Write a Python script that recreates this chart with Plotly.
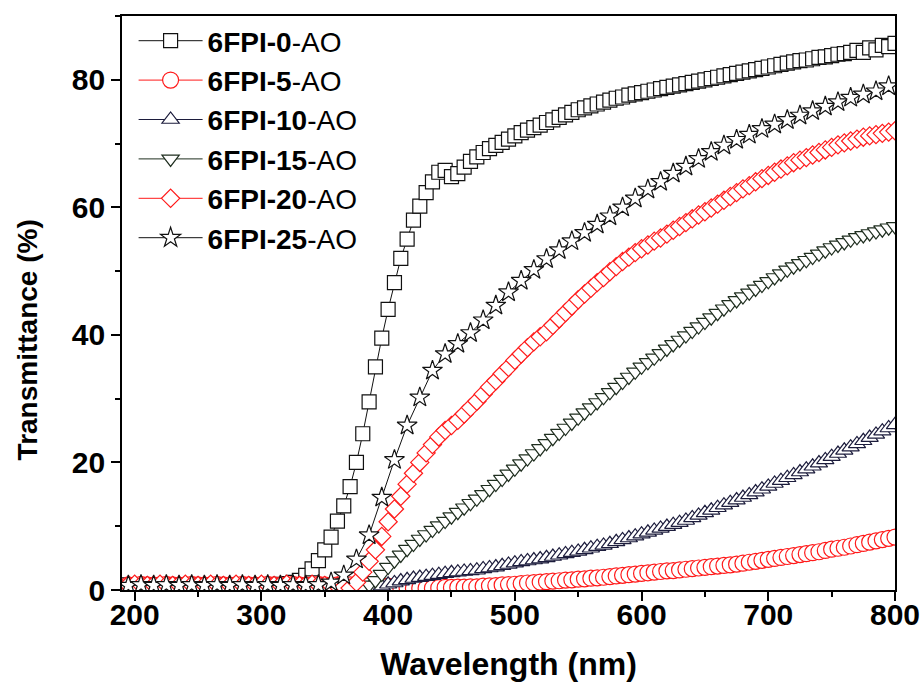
import plotly.graph_objects as go

# Wavelength grids (nm): most spectra sampled every 5 nm, the 6FPI-25 trace every 10 nm
WL5 = list(range(195, 805, 5))
WL10 = list(range(195, 800, 10))

# Transmittance (%) for each film
T_0 = [0.8, 0.7, 0.8, 0.8, 0.7, 0.8, 0.7, 0.8, 0.8, 0.7, 0.8, 0.7, 0.8, 0.8, 0.7, 0.8,
       0.7, 0.8, 0.8, 0.7, 0.8, 0.7, 0.8, 0.8, 0.9, 1.0, 1.2,
       1.5, 2.3, 3.3, 4.6, 6.3, 8.3, 10.8, 13.2, 16.2, 20.0, 24.5, 29.5, 35.0, 39.5,
       44.0, 48.2, 52.0, 55.0, 58.0, 60.2, 62.3, 64.0, 65.5, 65.8, 64.8, 65.3, 66.3,
       67.2, 67.9, 68.6, 69.2, 69.7, 70.2, 70.7, 71.2, 71.7, 72.1, 72.5, 72.9, 73.3,
       73.7, 74.1, 74.5, 74.9, 75.3, 75.6, 75.9, 76.2, 76.5, 76.8, 77.1, 77.3, 77.6,
       77.8, 78.0, 78.2, 78.4, 78.6, 78.8, 79.0, 79.2, 79.4, 79.6, 79.8, 80.0, 80.2,
       80.4, 80.6, 80.8, 81.0, 81.2, 81.4, 81.6, 81.8, 82.0, 82.2, 82.4, 82.6, 82.8,
       83.0, 83.1, 83.3, 83.5, 83.6, 83.8, 84.0, 84.1, 84.3, 84.6, 84.3, 85.0, 84.7,
       85.4, 85.2, 85.7]

T_5 = [0.8, 0.7, 0.9, 0.8, 0.7, 0.8, 0.9, 0.8, 0.7, 0.8, 0.9, 0.8, 0.7, 0.8, 0.9,
       0.8, 0.7, 0.8, 0.9, 0.8, 0.7, 0.8, 0.9, 0.8, 0.7, 0.8, 0.9, 0.8, 0.7, 0.8,
       0.9, 0.8, 0.7, 0.8, 0.8, 0.8, 0.7, 0.8, 0.7, 0.7, 0.7,
       0.6, 0.5, 0.4, 0.35, 0.3, 0.3, 0.3, 0.3, 0.35, 0.4, 0.4, 0.45, 0.45, 0.5, 0.5,
       0.6, 0.65, 0.7, 0.8, 0.85, 0.9, 1.0, 1.1, 1.15, 1.25, 1.3, 1.4, 1.45, 1.55,
       1.6, 1.7, 1.75, 1.85, 1.9, 2.0, 2.1, 2.2, 2.3, 2.4, 2.5, 2.6, 2.7, 2.8, 2.9,
       3.0, 3.05, 3.15, 3.25, 3.35, 3.45, 3.55, 3.65, 3.75, 3.85, 3.95, 4.05, 4.2,
       4.35, 4.5, 4.65, 4.8, 4.95, 5.1, 5.25, 5.4, 5.55, 5.7, 5.85, 6.0, 6.2, 6.4,
       6.55, 6.7, 6.9, 7.1, 7.3, 7.5, 7.7, 7.9, 8.1, 8.3]

T_10 = [0.8, 0.7, 0.8, 0.9, 0.8, 0.7, 0.8, 0.9, 0.8, 0.7, 0.8, 0.9, 0.8, 0.7, 0.8,
        0.9, 0.8, 0.7, 0.8, 0.9, 0.8, 0.7, 0.8, 0.9, 0.8, 0.7, 0.8, 0.9, 0.8, 0.7,
        0.8, 0.8, 0.7, 0.7, 0.6, 0.5, 0.5,
        0.4, 0.3, 0.4, 0.6, 0.9, 1.1, 1.4, 1.6, 1.8, 1.95, 2.1, 2.25, 2.4, 2.55, 2.7,
        2.8, 2.9, 3.0, 3.1, 3.3, 3.45, 3.6, 3.8, 4.0, 4.2, 4.4, 4.55, 4.7, 4.85, 5.05,
        5.25, 5.45, 5.65, 5.85, 6.05, 6.3, 6.55, 6.8, 7.0, 7.25, 7.55, 7.85, 8.15,
        8.45, 8.75, 9.05, 9.35, 9.65, 9.95, 10.25, 10.55, 10.9, 11.3, 11.7, 12.1,
        12.5, 12.9, 13.3, 13.7, 14.1, 14.5, 14.9, 15.35, 15.8, 16.25, 16.7, 17.15,
        17.6, 18.05, 18.5, 18.95, 19.4, 19.9, 20.4, 20.9, 21.4, 21.9, 22.4, 22.9,
        23.4, 23.9, 24.4, 24.9, 25.4, 25.9]

T_15 = [0.8, 0.7, 0.8, 0.8, 0.7, 0.8, 0.8, 0.7, 0.8, 0.8, 0.7, 0.8, 0.8, 0.7, 0.8,
        0.8, 0.7, 0.8, 0.8, 0.7, 0.8, 0.8, 0.7, 0.8, 0.8, 0.7, 0.8, 0.8, 0.7, 0.8,
        0.8, 0.7, 0.7, 0.6, 0.6, 0.5,
        0.5, 0.3, 0.8, 1.5, 2.5, 3.6, 4.6, 5.5, 6.4, 7.2, 8.0, 8.7, 9.4, 10.1, 10.8,
        11.5, 12.2, 12.9, 13.6, 14.3, 15.0, 15.8, 16.6, 17.4, 18.2, 19.0, 19.8, 20.6,
        21.4, 22.2, 23.0, 23.8, 24.6, 25.4, 26.2, 27.0, 27.8, 28.6, 29.4, 30.2, 31.0,
        31.8, 32.6, 33.4, 34.2, 35.0, 35.7, 36.4, 37.1, 37.8, 38.5, 39.2, 39.9, 40.6,
        41.3, 42.0, 42.7, 43.4, 44.1, 44.8, 45.4, 46.0, 46.6, 47.2, 47.8, 48.4, 49.0,
        49.6, 50.2, 50.7, 51.2, 51.7, 52.2, 52.7, 53.2, 53.7, 54.1, 54.5, 54.9, 55.3,
        55.6, 55.9, 56.2, 56.5, 56.8, 57.0]

T_20 = [0.8, 0.9, 0.8, 0.7, 0.8, 0.9, 0.8, 0.7, 0.8, 0.9, 0.8, 0.7, 0.8, 0.9, 0.8,
        0.7, 0.8, 0.9, 0.8, 0.7, 0.8, 0.9, 0.8, 0.7, 0.8, 0.9, 0.8, 0.7, 0.8, 0.9,
        0.8, 0.7, 0.7, 0.6,
        0.5, 0.3, 1.2, 2.8, 4.5, 6.3, 8.4, 10.7, 12.7, 14.7, 16.6, 18.3, 20.0, 21.5,
        22.8, 24.0, 25.0, 25.8, 26.6, 27.6, 28.6, 29.6, 30.7, 31.8, 32.8, 33.9, 34.9,
        36.0, 37.0, 38.0, 38.9, 39.7, 40.5, 41.5, 42.5, 43.5, 44.5, 45.5, 46.4, 47.3,
        48.2, 49.0, 49.9, 50.7, 51.5, 52.2, 52.9, 53.5, 54.1, 54.7, 55.2, 55.8, 56.4,
        57.0, 57.6, 58.2, 58.8, 59.3, 59.9, 60.5, 61.1, 61.7, 62.3, 62.9, 63.4, 64.0,
        64.5, 65.0, 65.5, 66.0, 66.5, 67.0, 67.4, 67.8, 68.2, 68.6, 69.0, 69.4, 69.8,
        70.1, 70.4, 70.7, 71.0, 71.2, 71.4, 71.6, 71.8, 72.0]

T_25 = [0.7, 0.8, 0.7, 0.8, 0.7, 0.8, 0.7, 0.8, 0.7, 0.8, 0.7, 0.8, 0.7, 0.8, 0.7,
        0.8, 1.2, 2.3, 4.8, 8.6, 14.5, 20.4, 25.8, 30.2, 34.4, 37.0, 38.6, 40.3,
        42.3, 44.6, 46.7, 48.5, 50.2, 51.9, 53.3, 54.7, 56.0, 57.3, 58.6, 60.0, 61.4,
        62.8, 64.0, 65.3, 66.4, 67.6, 68.7, 69.7, 70.6, 71.4, 72.3, 73.0, 73.7, 74.4,
        75.1, 75.8, 76.5, 77.2, 77.7, 78.2, 79.0]

FONT = "Arial, 'Liberation Sans', sans-serif"

series = [
    ("6FPI-0", WL5, T_0, "square", "#111111", 14),
    ("6FPI-5", WL5, T_5, "circle", "#ff1a1a", 16),
    ("6FPI-10", WL5, T_10, "triangle-up", "#1c1c3c", 15),
    ("6FPI-15", WL5, T_15, "triangle-down", "#1f2e1f", 15),
    ("6FPI-20", WL5, T_20, "diamond", "#ff1a1a", 14),
    ("6FPI-25", WL10, T_25, "star", "#111111", 15),
]

fig = go.Figure()
for i, (name, wl, t, sym, col, size) in enumerate(series):
    assert len(wl) == len(t), name
    fig.add_trace(go.Scatter(
        x=wl, y=t, mode="lines+markers",
        name=f"<b>{name}</b>-AO",
        line=dict(color=col, width=1),
        marker=dict(symbol=sym, size=size, color="white",
                    line=dict(color=col, width=1.2)),
    ))

fig.update_layout(
    width=920, height=682,
    margin=dict(l=122, r=25, t=16, b=92),
    paper_bgcolor="white", plot_bgcolor="white",
    font=dict(family=FONT, color="black"),
    showlegend=True,
    legend=dict(
        x=0.015, y=1.0, xanchor="left", yanchor="top",
        bgcolor="rgba(0,0,0,0)", borderwidth=0,
        font=dict(family=FONT, size=28, color="black"),
        itemwidth=64, traceorder="normal",
    ),
)

fig.update_xaxes(
    range=[190, 800], tick0=200, dtick=100, automargin=False,
    ticklabeloverflow="allow",
    ticks="outside", ticklen=9, tickwidth=1.5, tickcolor="black",
    minor=dict(dtick=50, ticks="outside", ticklen=5, tickwidth=1.5, tickcolor="black"),
    showline=True, linecolor="black", linewidth=1.8, mirror=True,
    showgrid=False, zeroline=False, ticklabelstandoff=-12,
    tickfont=dict(family=FONT, size=30, weight="bold", color="black"),
    title=dict(text="<b>Wavelength (nm)</b>", font=dict(family=FONT, size=32), standoff=26),
)
fig.update_yaxes(
    range=[0, 90], tick0=0, dtick=20, automargin=False,
    ticks="outside", ticklen=9, tickwidth=1.5, tickcolor="black",
    minor=dict(dtick=10, ticks="outside", ticklen=5, tickwidth=1.5, tickcolor="black"),
    showline=True, linecolor="black", linewidth=1.8, mirror=True,
    showgrid=False, zeroline=False,
    tickfont=dict(family=FONT, size=30, weight="bold", color="black"),
)

# y-axis title, set slightly below the axis midpoint
fig.add_annotation(
    text="<b>Transmittance (%)</b>", textangle=-90,
    xref="paper", yref="paper", x=-0.122, y=0.436,
    xanchor="center", yanchor="middle", showarrow=False,
    font=dict(family=FONT, size=28, color="black"),
)

fig.write_html("out.html")
